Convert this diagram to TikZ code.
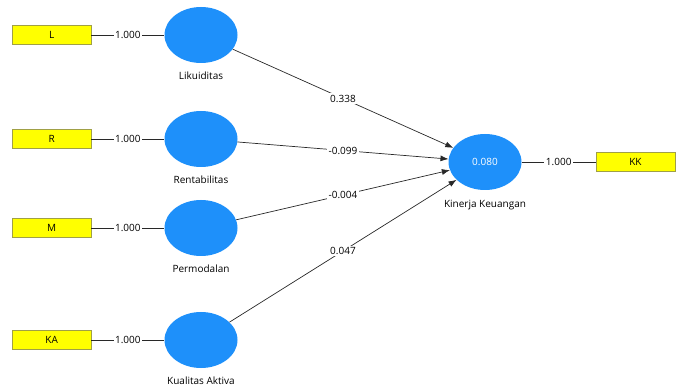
\documentclass[tikz,border=0pt]{standalone}
\usepackage{fontspec}
\setmainfont{Open Sans}
\usepackage{tikz}
\usetikzlibrary{positioning}
\usetikzlibrary{shapes.geometric}
\usetikzlibrary{arrows.meta}
\definecolor{lvblue}{RGB}{30,144,250}
\definecolor{mvyellow}{RGB}{255,255,0}
\definecolor{mvedge}{RGB}{160,160,70}
\definecolor{pathgray}{RGB}{40,40,40}
\tikzset{lv/.style={ellipse, fill=lvblue, minimum width=73pt, minimum height=56pt, inner sep=0pt},
	mv/.style={rectangle, draw=mvedge, fill=mvyellow, minimum width=79pt, minimum height=19pt, inner sep=0pt},
	coef/.style={fill=white, inner sep=1.5pt},
	ln/.style={draw=pathgray, line width=.7pt}}

\begin{document}
\begin{tikzpicture}[x=1pt,y=-1pt,font=\fontsize{10}{11}\selectfont]
	\useasboundingbox (0,0) rectangle (678,390);
	\node [lv] at (201,35) (1Lik) {}; \node [mv, left=73pt of 1Lik] (0L) {L}; \node [below=5pt of 1Lik] (1LikT) {Likuiditas};
	\node [lv] at (201,139) (1Ren) {}; \node [mv, left=73pt of 1Ren] (0R) {R}; \node [below=5pt of 1Ren] (1RenT) {Rentabilitas};
	\node [lv] at (201,228) (1Per) {}; \node [mv, left=73pt of 1Per] (0M) {M}; \node [below=5pt of 1Per] (1PerT) {Permodalan};
	\node [lv] at (201,340) (1Kua) {}; \node [mv, left=73pt of 1Kua] (0KA) {KA}; \node [below=5pt of 1Kua] (1KuaT) {Kualitas Aktiva};
	\node [lv, text=white] at (485,162) (2Kin) {0.080}; \node [below=6pt of 2Kin] (2KinT) {Kinerja Keuangan};
	\node [mv, right=74pt of 2Kin] (3KK) {KK};
	\draw [ln] (0L)--node[coef]{1.000}(1Lik); \draw [ln] (0R)--node[coef]{1.000}(1Ren);
	\draw [ln] (0M)--node[coef]{1.000}(1Per); \draw [ln] (0KA)--node[coef]{1.000}(1Kua);
	\draw [ln] (2Kin)--node[coef]{1.000}(3KK);
	\draw [ln, -{Latex[length=8pt,width=6pt]}] (1Lik)--node[coef]{0.338}(2Kin);
	\draw [ln, -{Latex[length=8pt,width=6pt]}] (1Ren)--node[coef]{-0.099}(2Kin);
	\draw [ln, -{Latex[length=8pt,width=6pt]}] (1Per)--node[coef]{-0.004}(2Kin);
	\draw [ln, -{Latex[length=8pt,width=6pt]}] (1Kua)--node[coef]{0.047}(2Kin);
\end{tikzpicture}
\end{document}
